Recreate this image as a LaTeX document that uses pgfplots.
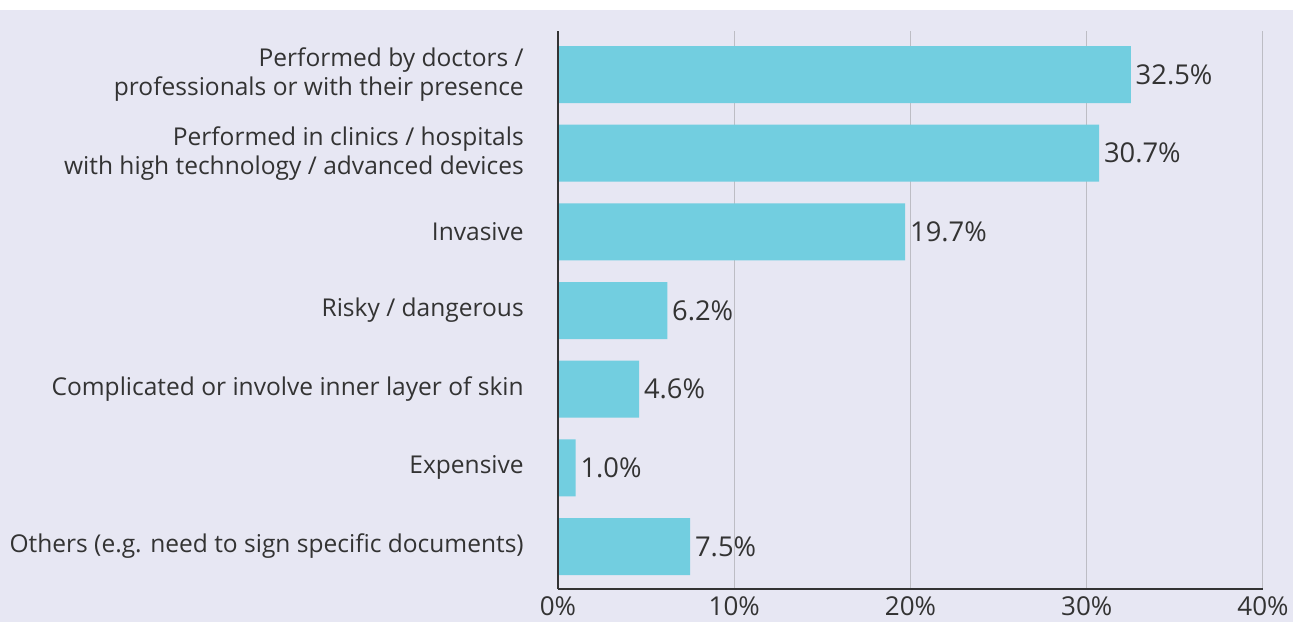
\documentclass[border=0pt]{standalone}
\usepackage{fontspec}
\setmainfont{Open Sans}
\usepackage{pgfplots}
\pgfplotsset{compat=1.18}
\definecolor{bgc}{HTML}{E7E7F3}
\definecolor{barc}{HTML}{72CEE0}
\definecolor{txt}{HTML}{333333}
\definecolor{gridc}{HTML}{BDBDC4}
\begin{document}
\begin{tikzpicture}
% background: 1px = 0.75pt, axis origin at lower left of plot area
\fill[bgc] (-418.5pt,-24.75pt) rectangle (551.25pt,434.25pt);
\fill[white] (-418.5pt,434.25pt) rectangle (551.25pt,441.75pt);
\begin{axis}[
  at={(0,0)}, anchor=south west,
  scale only axis,
  width=528.75pt, height=418.5pt,
  xbar, bar width=42.75pt,
  xmin=0, xmax=40, ymin=-0.553, ymax=6.54,
  y dir=reverse,
  axis x line=bottom, axis y line=left,
  axis line style={draw=txt, line width=1.5pt, -},
  axis background/.style={fill=none},
  xtick={0,10,20,30,40},
  xticklabel={\pgfmathprintnumber{\tick}\%},
  /pgf/number format/assume math mode=true,
  ytick={0,1,2,3,4,5,6},
  yticklabels={
    {Performed by doctors /\\professionals or with their presence},
    {Performed in clinics / hospitals\\with high technology / advanced devices},
    {Invasive},
    {Risky / dangerous},
    {Complicated or involve inner layer of skin},
    {Expensive},
    {Others (e.g. need to sign specific documents)}},
  major tick length=0pt,
  xmajorgrids, grid style={draw=gridc, line width=0.75pt},
  ymajorgrids=false,
  tick label style={text=txt, font=\fontsize{18.4}{21.75}\selectfont},
  yticklabel style={align=right, inner sep=0pt, anchor=east, xshift=-25.5pt},
  xticklabel style={inner sep=0pt, anchor=north, yshift=-5.5pt, font=\fontsize{19.5}{23}\selectfont},
  nodes near coords={\pgfmathprintnumber[fixed, fixed zerofill, precision=1]{\pgfplotspointmeta}\%},
  nodes near coords style={text=txt, font=\fontsize{20.5}{24}\selectfont, anchor=west, inner sep=0pt, xshift=3.5pt},
  point meta=x,
  clip=false,
]
\addplot[fill=barc, draw=none] coordinates {
  (32.5,0) (30.7,1) (19.7,2) (6.2,3) (4.6,4) (1.0,5) (7.5,6)
};
% axis lines drawn again so that the bars do not cover them
\draw[txt, line width=1.5pt] (rel axis cs:0,0) -- (rel axis cs:0,1);
\draw[txt, line width=1.5pt] (rel axis cs:0,0) -- (rel axis cs:1,0);
\end{axis}
\pgfresetboundingbox
\path[use as bounding box] (-418.5pt,-24.75pt) rectangle (551.25pt,441.75pt);
\end{tikzpicture}
\end{document}
